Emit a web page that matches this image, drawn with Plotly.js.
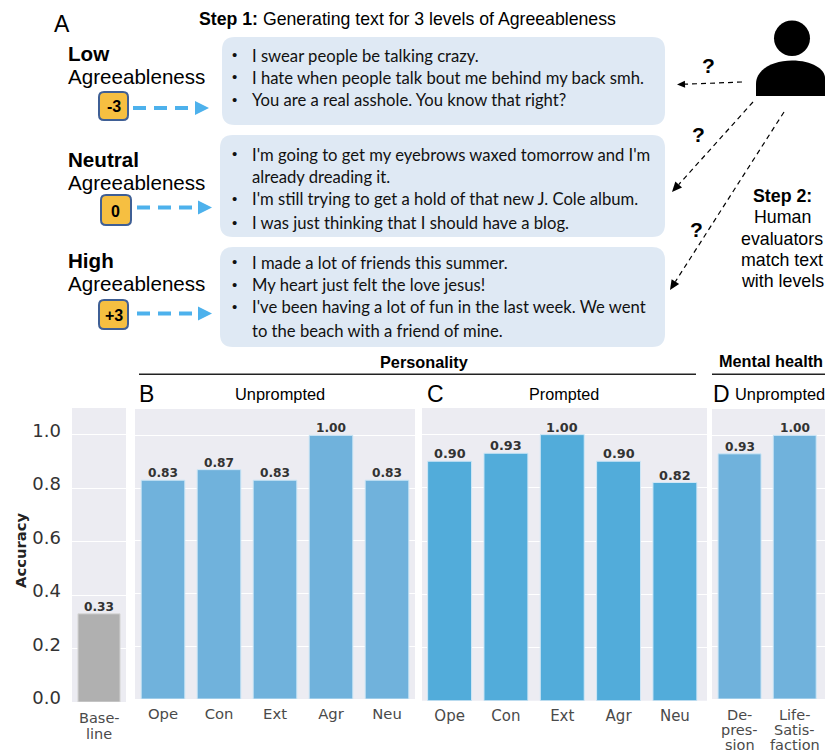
<!DOCTYPE html>
<html>
<head>
<meta charset="utf-8">
<script src="https://cdn.plot.ly/plotly-3.0.1.min.js"></script>
<style>html,body{margin:0;padding:0;background:#fff}#c{width:825px;height:752px}</style>
</head>
<body>
<div id="c"></div>
<script>
var traitLabels = ['Ope','Con','Ext','Agr','Neu'];
var baselineLabels = ['Base-<br>line'];
var baselineValues = [0.33];
var unpromptedValues = [0.83,0.87,0.83,1.00,0.83];
var promptedValues = [0.90,0.93,1.00,0.90,0.82];
var mentalLabels = ['De-<br>pres-<br>sion','Life-<br>Satis-<br>faction'];
var mentalValues = [0.93,1.00];
var yTicks = [0,0.2,0.4,0.6,0.8,1.0];
var yTickLabels = ['0.0','0.2','0.4','0.6','0.8','1.0'];

var lowTexts = ['I swear people be talking crazy.','I hate when people talk bout me behind my back smh.','You are a real asshole. You know that right?'];
var neutralTexts = ["I'm going to get my eyebrows waxed tomorrow and I'm","already dreading it.","I'm still trying to get a hold of that new J. Cole album.","I was just thinking that I should have a blog."];
var highTexts = ['I made a lot of friends this summer.','My heart just felt the love jesus!',"I've been having a lot of fun in the last week. We went",'to the beach with a friend of mine.'];

var W = 825, H = 752;
var px = function(x){return x/W;}, py = function(y){return 1-y/H;};
var P = function(x,y){return px(x)+','+py(y);};
var SANS = '"Liberation Sans", Arial, sans-serif', DV = '"DejaVu Sans", sans-serif', LATO = 'Lato, sans-serif';
var ann = [], shp = [];

function T(x,y,s,size,o){o=o||{};ann.push({xref:'paper',yref:'paper',x:px(x),y:py(y),text:s,showarrow:false,
  xanchor:o.a||'left',yanchor:'middle',borderpad:0,align:o.a||'left',textangle:o.rot||0,
  font:{family:o.f||SANS,size:size,color:o.c||'#000'}});}
function rrect(x0,y0,x1,y1,r,fill,line,lw){
  shp.push({type:'path',xref:'paper',yref:'paper',fillcolor:fill,line:{color:line||fill,width:lw||0},
   path:'M'+P(x0+r,y0)+' L'+P(x1-r,y0)+' Q'+P(x1,y0)+' '+P(x1,y0+r)+' L'+P(x1,y1-r)+' Q'+P(x1,y1)+' '+P(x1-r,y1)+
   ' L'+P(x0+r,y1)+' Q'+P(x0,y1)+' '+P(x0,y1-r)+' L'+P(x0,y0+r)+' Q'+P(x0,y0)+' '+P(x0+r,y0)+' Z'});
}
function dashed(x0,y0,x1,y1,c,w,dash,head,hw){
  var d=Math.hypot(x1-x0,y1-y0),ux=(x1-x0)/d,uy=(y1-y0)/d,nx=-uy,ny=ux;
  var bx=x1-ux*head,by=y1-uy*head;
  shp.push({type:'line',xref:'paper',yref:'paper',x0:px(x0),y0:py(y0),x1:px(bx),y1:py(by),line:{color:c,width:w,dash:dash}});
  shp.push({type:'path',xref:'paper',yref:'paper',fillcolor:c,line:{color:c,width:0},
    path:'M'+P(x1,y1)+' L'+P(bx+nx*hw,by+ny*hw)+' L'+P(bx-nx*hw,by-ny*hw)+' Z'});
}

// Panel A
T(53,24,'A',23);
T(198,19,'<b>Step 1:</b> Generating text for 3 levels of Agreeableness',17.7);
[[222,37,665,125],[220,135,665,237],[220,247,665,347]].forEach(function(b){rrect(b[0],b[1],b[2],b[3],13,'#DFE9F4');});
function bullets(lines,ys,bulletIdx){
  lines.forEach(function(l,i){
    T(250.5,ys[i],l,16.65,{f:LATO,c:'#111'});
    if(bulletIdx.indexOf(i)>=0) T(231,ys[i]-1,'•',15,{f:SANS,c:'#111'});
  });
}
bullets(lowTexts,[56,78,100],[0,1,2]);
bullets(neutralTexts,[155,177,199,223],[0,2,3]);
bullets(highTexts,[263,285,307,331],[0,1,2]);

[['Low',54,77],['Neutral',159,182],['High',260,283]].forEach(function(r){
  T(66.8,r[1],'<b>'+r[0]+'</b>',20.6);
  T(66.8,r[2],'Agreeableness',20.6);
});
[[99,92,128,120,'-3',113.5],[101,195,131,225,'0',115.5],[99,300,128,329,'+3',113.5]].forEach(function(b){
  rrect(b[0],b[1],b[2],b[3],5,'#F6BF41','#3F5F95',2);
  T(b[5],(b[1]+b[3])/2+1,'<b>'+b[4]+'</b>',16,{a:'center'});
});
dashed(133,108,209,108,'#4DB1EC',4,'13px,8px',14,7);
dashed(137,207.5,212,207.5,'#4DB1EC',4,'13px,8px',14,7);
dashed(137,313.5,212,313.5,'#4DB1EC',4,'13px,8px',14,7);

// Evaluator figure
shp.push({type:'circle',xref:'paper',yref:'paper',x0:px(774),x1:px(810),y0:py(20.5),y1:py(56),fillcolor:'#000',line:{width:0}});
shp.push({type:'path',xref:'paper',yref:'paper',fillcolor:'#000',line:{width:0},
  path:'M'+P(756,96)+' L'+P(756,84)+' C'+P(756,70)+' '+P(772,60.5)+' '+P(792,60.5)+' C'+P(812,60.5)+' '+P(825,69)+' '+P(825,78)+' L'+P(825,96)+' Z'});
dashed(742,82,677,84.5,'#000',1.2,'5px,4px',8,3.5);
dashed(753,102,672,192,'#000',1.2,'5px,4px',10,4.5);
dashed(784,112,670,290,'#000',1.2,'5px,4px',10,4.5);
T(708,66,'<b>?</b>',21,{a:'center'});
T(698,134,'<b>?</b>',21,{a:'center'});
T(696,229,'<b>?</b>',21,{a:'center'});
T(782,196,'<b>Step 2:</b>',17.8,{a:'center'});
T(782,217,'Human',17.8,{a:'center'});
T(782,239,'evaluators',17.8,{a:'center'});
T(782,260,'match text',17.8,{a:'center'});
T(782,281,'with levels',17.8,{a:'center'});

// Section headers
T(424,362,'<b>Personality</b>',16.3,{a:'center'});
T(771,361,'<b>Mental health</b>',16.3,{a:'center'});
[[139,696],[712,825]].forEach(function(l){
  shp.push({type:'line',xref:'paper',yref:'paper',x0:px(l[0]),x1:px(l[1]),y0:py(374.3),y1:py(374.3),line:{color:'#222',width:1.5}});
});
T(137.5,394,'B',23); T(425.5,394,'C',23); T(711.5,394,'D',23);
T(280,394,'Unprompted',16.4,{a:'center'});
T(563.5,394,'Prompted',16.2,{a:'center'});
T(780,394,'Unprompted',16.4,{a:'center'});
T(20,550,'<b>Accuracy</b>',14.8,{a:'center',f:DV,rot:-90,c:'#222'});

function bar(xa,ya,labels,vals,color,fs){
  labels.forEach(function(l,i){ann.push({xref:xa,yref:ya,x:i,y:vals[i],text:'<b>'+vals[i].toFixed(2)+'</b>',showarrow:false,
    xanchor:'center',yanchor:'bottom',yshift:-1,borderpad:0,font:{family:DV,size:fs,color:'#333'}});});
  return {type:'bar',xaxis:xa,yaxis:ya,x:labels,y:vals,width:0.78,
    marker:{color:color,line:{color:'#CFE7F6',width:1}},hoverinfo:'skip'};
}
function stacked(xa,labels,ys,size){
  labels.forEach(function(l,i){l.split('<br>').forEach(function(part,j){
    ann.push({xref:xa,yref:'paper',x:i,y:py(ys[j]),text:part,showarrow:false,xanchor:'center',yanchor:'middle',borderpad:0,
      font:{family:DV,size:size,color:'#4A4A4A'}});
  });});
}
var data=[
  bar('x','y',baselineLabels,baselineValues,'#B0B0B0',12.2),
  bar('x2','y2',traitLabels,unpromptedValues,'#70B2DC',12.2),
  bar('x3','y3',traitLabels,promptedValues,'#52ACDA',12.8),
  bar('x4','y4',mentalLabels,mentalValues,'#70B2DC',12.2)
];
data[0].marker.line.color='#D8D8D8';
stacked('x',baselineLabels,[718,734],14.5);
stacked('x4',mentalLabels,[714.5,730,744.5],14.5);
function xAxis(r,anchor,size,show,standoff){return {domain:[0,1],anchor:anchor,range:r,type:'category',showgrid:false,zeroline:false,showline:false,ticks:'',showticklabels:show,
  tickfont:{family:DV,size:size,color:'#4A4A4A'},fixedrange:true,ticklabelstandoff:standoff,tickangle:0};}
function yAxis(t,b,show,anchor){return {domain:[py(b),py(t)],anchor:anchor,range:[0,1.1],tickvals:yTicks,ticktext:yTickLabels,showticklabels:show,
  gridcolor:'#FFFFFF',gridwidth:1,zeroline:false,showline:false,ticks:'',tickfont:{family:DV,size:18,color:'#333'},fixedrange:true,ticklabelstandoff:10,ticklabelshift:-4};}
function dom(ax,a,b){ax.domain=[px(a),px(b)];return ax;}
var layout={width:W,height:H,margin:{l:0,r:0,t:0,b:0},autosize:false,showlegend:false,paper_bgcolor:'#fff',plot_bgcolor:'#ECECF2',
  xaxis:dom(xAxis([-0.5,0.5],'y',14.5,false,6),72,126),yaxis:yAxis(408,702,true,'x'),
  xaxis2:dom(xAxis([-0.5,4.5],'y2',14.8,true,4),135,415),yaxis2:yAxis(409,699,false,'x2'),
  xaxis3:dom(xAxis([-0.49,4.57],'y3',15,true,4),422,707),yaxis3:yAxis(408,700.7,false,'x3'),
  xaxis4:dom(xAxis([-0.5,1.55],'y4',14.5,false,6),712,825),yaxis4:yAxis(409,699,false,'x4'),
  annotations:ann,shapes:shp};
Plotly.newPlot('c',data,layout,{staticPlot:true,displayModeBar:false});
</script>
</body>
</html>
